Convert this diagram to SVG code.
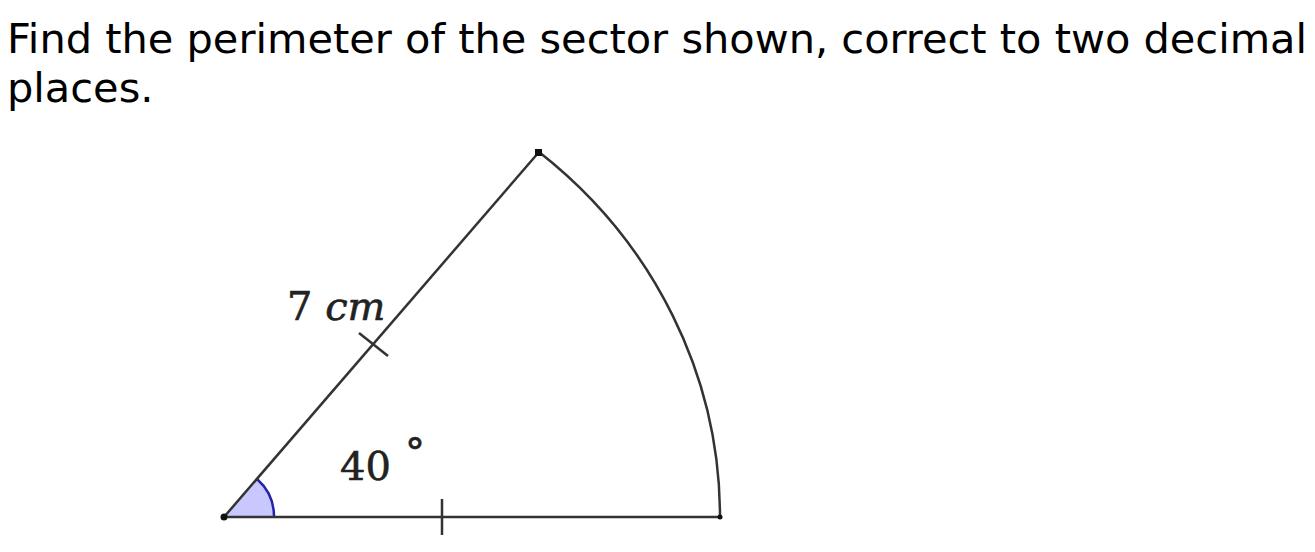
<svg xmlns="http://www.w3.org/2000/svg" width="1315" height="552" viewBox="0 0 1315 552">
<style>
.q{font-family:"DejaVu Sans",sans-serif;font-size:41.5px;fill:#000}
.lbl{font-family:"DejaVu Serif","Liberation Serif",serif;font-size:40px;fill:#222;stroke:#222;stroke-width:0.6}
.ln{stroke:#333;stroke-width:2.5;fill:none}
</style>
<rect width="1315" height="552" fill="#fff"/>
<g id="question">
<text class="q" x="7" y="53">Find the perimeter of the sector shown, correct to two decimal</text>
<text class="q" x="7" y="102">places.</text>
</g>
<g id="angle">
<path d="M224,517 L274,517 A50,50 0 0 0 257,479 Z" fill="#c8c8ff" stroke="none"/>
<path d="M274,517 A50,50 0 0 0 257,479" fill="none" stroke="#2222aa" stroke-width="2.5"/>
</g>
<g id="connectors">
<path class="ln" d="M224,517 L539,152"/>
<path class="ln" d="M224,517 L720,517"/>
<path class="ln" d="M539,152 A496,472.5 0 0 1 720,517"/>
<path class="ln" d="M442,499 L442,535"/>
<path class="ln" d="M359,333 L388,356"/>
</g>
<g id="points" fill="#111">
<circle cx="224" cy="517" r="3.5"/>
<rect x="535" y="149" width="7" height="7"/>
<circle cx="720" cy="517" r="2.5"/>
</g>
<g id="labels">
<text class="lbl" x="287" y="320">7 <tspan font-style="italic">cm</tspan></text>
<text class="lbl" x="340" y="480">40</text>
<text class="lbl" x="405" y="466" font-size="24" stroke-width="0.3">°</text>
</g>
</svg>
